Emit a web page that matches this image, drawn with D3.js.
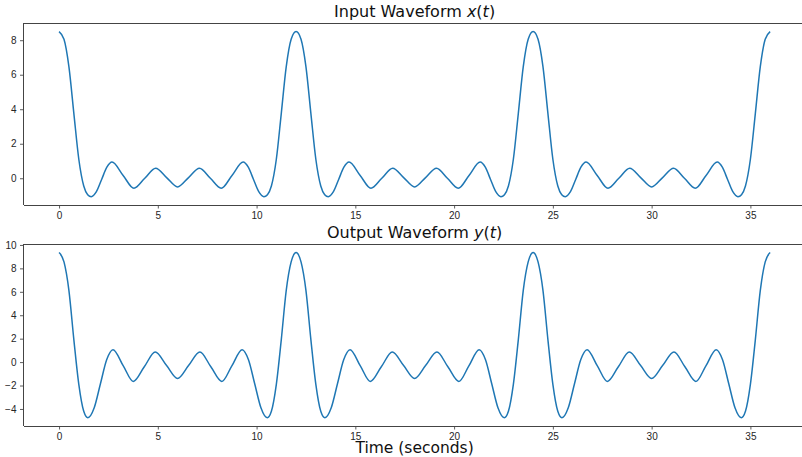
<!DOCTYPE html>
<html>
<head>
<meta charset="utf-8">
<style>
  body { margin: 0; background: #fff; overflow: hidden; }
  svg { font-family: 'DejaVu Sans', sans-serif; display: block; }
  .tick text { font-size: 10px; fill: #262626; }
  .tick line { stroke: #333; stroke-width: 0.8; }
  .domain { display: none; }
  .spine { stroke: #444; stroke-width: 1; shape-rendering: crispEdges; }
  .wave { fill: none; stroke: #1f77b4; stroke-width: 1.5; }
  .title { font-size: 16px; fill: #111; }
</style>
</head>
<body>
<svg width="802" height="457"></svg>
<script src="https://cdn.jsdelivr.net/npm/d3@7/dist/d3.min.js"></script>
<script>
// input waveform x(t), knots
const inputT = [
  0, 0.25, 0.5, 0.75, 1, 1.25, 1.45, 1.63, 1.89, 2.155, 2.42, 2.68, 3.235, 3.79, 4.34, 4.89, 5.445, 6,
  6.555, 7.11, 7.66, 8.21, 8.765, 9.32, 9.58, 9.845, 10.11, 10.37, 10.55, 10.75, 11, 11.25, 11.5, 11.75,
  12, 12.25, 12.5, 12.75, 13, 13.25, 13.45, 13.63, 13.89, 14.155, 14.42, 14.68, 15.235, 15.79, 16.34, 16.89, 17.445, 18,
  18.555, 19.11, 19.66, 20.21, 20.765, 21.32, 21.58, 21.845, 22.11, 22.37, 22.55, 22.75, 23, 23.25, 23.5, 23.75,
  24, 24.25, 24.5, 24.75, 25, 25.25, 25.45, 25.63, 25.89, 26.155, 26.42, 26.68, 27.235, 27.79, 28.34, 28.89, 29.445, 30,
  30.555, 31.11, 31.66, 32.21, 32.765, 33.32, 33.58, 33.845, 34.11, 34.37, 34.55, 34.75, 35, 35.25, 35.5, 35.75,
  36
];
const inputX = [
  8.5, 8.05, 6.45, 3.75, 1.1, -0.45, -0.95, -1.07, -0.78, -0.07, 0.64, 0.94, 0.18, -0.58, 0.0, 0.58, 0.04, -0.5,
  0.04, 0.58, 0.0, -0.58, 0.18, 0.94, 0.64, -0.07, -0.78, -1.07, -0.95, -0.45, 1.1, 3.75, 6.45, 8.05,
  8.5, 8.05, 6.45, 3.75, 1.1, -0.45, -0.95, -1.07, -0.78, -0.07, 0.64, 0.94, 0.18, -0.58, 0.0, 0.58, 0.04, -0.5,
  0.04, 0.58, 0.0, -0.58, 0.18, 0.94, 0.64, -0.07, -0.78, -1.07, -0.95, -0.45, 1.1, 3.75, 6.45, 8.05,
  8.5, 8.05, 6.45, 3.75, 1.1, -0.45, -0.95, -1.07, -0.78, -0.07, 0.64, 0.94, 0.18, -0.58, 0.0, 0.58, 0.04, -0.5,
  0.04, 0.58, 0.0, -0.58, 0.18, 0.94, 0.64, -0.07, -0.78, -1.07, -0.95, -0.45, 1.1, 3.75, 6.45, 8.05,
  8.5
];

// output waveform y(t)
const outputT = [
  0, 0.25, 0.5, 0.75, 1, 1.25, 1.46, 1.78, 2.095, 2.41, 2.73, 3.245, 3.76, 4.315, 4.87, 5.435, 6,
  6.565, 7.13, 7.685, 8.24, 8.755, 9.27, 9.59, 9.905, 10.22, 10.54, 10.75, 11, 11.25, 11.5, 11.75,
  12, 12.25, 12.5, 12.75, 13, 13.25, 13.46, 13.78, 14.095, 14.41, 14.73, 15.245, 15.76, 16.315, 16.87, 17.435, 18,
  18.565, 19.13, 19.685, 20.24, 20.755, 21.27, 21.59, 21.905, 22.22, 22.54, 22.75, 23, 23.25, 23.5, 23.75,
  24, 24.25, 24.5, 24.75, 25, 25.25, 25.46, 25.78, 26.095, 26.41, 26.73, 27.245, 27.76, 28.315, 28.87, 29.435, 30,
  30.565, 31.13, 31.685, 32.24, 32.755, 33.27, 33.59, 33.905, 34.22, 34.54, 34.75, 35, 35.25, 35.5, 35.75,
  36
];
const outputY = [
  9.35, 8.55, 6.1, 1.9, -1.9, -4.2, -4.75, -3.9, -1.85, 0.2, 1.06, -0.3, -1.65, -0.4, 0.86, -0.27, -1.39,
  -0.27, 0.86, -0.4, -1.65, -0.3, 1.06, 0.2, -1.85, -3.9, -4.75, -4.2, -1.9, 1.9, 6.1, 8.55,
  9.35, 8.55, 6.1, 1.9, -1.9, -4.2, -4.75, -3.9, -1.85, 0.2, 1.06, -0.3, -1.65, -0.4, 0.86, -0.27, -1.39,
  -0.27, 0.86, -0.4, -1.65, -0.3, 1.06, 0.2, -1.85, -3.9, -4.75, -4.2, -1.9, 1.9, 6.1, 8.55,
  9.35, 8.55, 6.1, 1.9, -1.9, -4.2, -4.75, -3.9, -1.85, 0.2, 1.06, -0.3, -1.65, -0.4, 0.86, -0.27, -1.39,
  -0.27, 0.86, -0.4, -1.65, -0.3, 1.06, 0.2, -1.85, -3.9, -4.75, -4.2, -1.9, 1.9, 6.1, 8.55,
  9.35
];

const xTicks = [0, 5, 10, 15, 20, 25, 30, 35];
const inputTicks = [0, 2, 4, 6, 8];
const outputTicks = [-4, -2, 0, 2, 4, 6, 8, 10];

let svg = d3.select("svg");

// the axes run a little past the right edge of the figure
let left = 23.5, right = 805.7;

let x = d3.scaleLinear()
  .domain([-1.8, 37.8])
  .range([left, right]);

function panel(cfg) {
  let y = d3.scaleLinear()
    .domain(cfg.ylim)
    .range([cfg.bottom, cfg.top]);

  let g = svg.append("g");

  let pts = cfg.t.map((t, i) => [t, cfg.v[i]]);
  let line = d3.line()
    .x(d => x(d[0]))
    .y(d => y(d[1]))
    .curve(d3.curveMonotoneX);

  g.append("path")
    .attr("class", "wave")
    .attr("d", line(pts));

  g.append("g")
    .attr("transform", `translate(0,${cfg.bottom})`)
    .call(d3.axisBottom(x).tickValues(xTicks).tickSize(3.5).tickPadding(3));

  g.append("g")
    .attr("transform", `translate(${left},0)`)
    .call(d3.axisLeft(y).tickValues(cfg.ticks).tickSize(3.5).tickPadding(3.5)
      .tickFormat(d => d < 0 ? "\u2212" + Math.abs(d) : d));

  // left, top and bottom spines
  [[left, cfg.top, left, cfg.bottom],
   [left, cfg.top, right, cfg.top],
   [left, cfg.bottom, right, cfg.bottom]].forEach(s => {
    g.append("line")
      .attr("class", "spine")
      .attr("x1", s[0]).attr("y1", s[1])
      .attr("x2", s[2]).attr("y2", s[3]);
  });

  let title = g.append("text")
    .attr("class", "title")
    .attr("x", (left + right) / 2)
    .attr("y", cfg.top - 6)
    .attr("text-anchor", "middle");
  title.append("tspan").text(cfg.title + " ");
  title.append("tspan").style("font-style", "italic").text(cfg.sym);
  title.append("tspan").text("(");
  title.append("tspan").style("font-style", "italic").text("t");
  title.append("tspan").text(")");
}

panel({ t: inputT, v: inputX, ylim: [-1.55, 8.98], top: 23.3, bottom: 205,
  ticks: inputTicks, title: "Input Waveform", sym: "x" });

panel({ t: outputT, v: outputY, ylim: [-5.455, 10.055], top: 244.3, bottom: 426,
  ticks: outputTicks, title: "Output Waveform", sym: "y" });

svg.append("text")
  .attr("class", "title")
  .attr("x", (left + right) / 2)
  .attr("y", 452.5)
  .attr("text-anchor", "middle")
  .style("font-size", "15.5px")
  .text("Time (seconds)");
</script>
</body>
</html>
